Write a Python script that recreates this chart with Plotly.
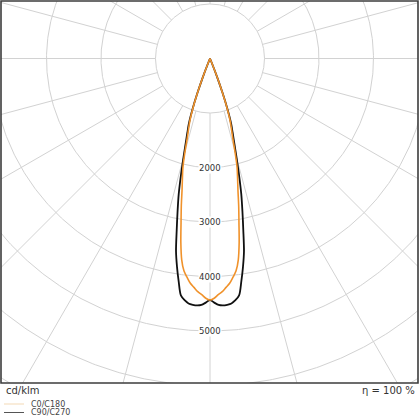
import numpy as np
import plotly.graph_objects as go

# ---- data (cd/klm) ----
gamma_deg = [0, 1, 2, 3, 4, 5, 6, 7, 8, 9, 10, 11, 12, 13, 14, 15, 16, 17, 18, 19, 20, 21, 22, 23, 30, 45, 60, 75, 90]
c0_c180 = [4431, 4400, 4335, 4285, 4210, 4140, 4035, 3925, 3730, 3420, 3060, 2760, 2467, 2250, 2051, 1775, 1510, 1340, 1186, 960, 660, 360, 80, 0, 0, 0, 0, 0, 0]
c90_c270 = [4431, 4480, 4525, 4537, 4530, 4512, 4460, 4381, 4130, 3870, 3590, 3200, 2860, 2550, 2200, 1880, 1620, 1420, 1250, 990, 680, 370, 70, 0, 0, 0, 0, 0, 0]

grid_radii = [1000, 2000, 3000, 4000, 5000, 6000, 7000, 8000]
label_radii = [2000, 3000, 4000, 5000]
spoke_angles = list(range(0, 360, 15))
series_names = ["C0/C180", "C90/C270"]
series_colors = ["#f0922b", "#111111"]
legend_colors = ["#f3d9b5", "#555555"]

W = H = 420
# frame in pixels
FX0, FX1, FY0, FY1 = 1, 418, 1, 383
CX, CY = 210, 58.5
S = 0.0545  # px per cd/klm

xr = [(FX0 - CX) / S, (FX1 - CX) / S]
yr = [-(FY1 - CY) / S, (CY - FY0) / S]

fig = go.Figure()

# grid circles
t = np.linspace(0, 2 * np.pi, 721)
gx, gy = [], []
for r in grid_radii:
    gx += list(r * np.sin(t)) + [None]
    gy += list(r * np.cos(t)) + [None]
fig.add_trace(go.Scatter(x=gx, y=gy, mode="lines", line=dict(color="#d2d2d2", width=1),
                         hoverinfo="skip", showlegend=False))
# spokes
sx, sy = [], []
for a in spoke_angles:
    ar = np.radians(a)
    sx += [grid_radii[0] * np.sin(ar), grid_radii[-1] * np.sin(ar), None]
    sy += [grid_radii[0] * np.cos(ar), grid_radii[-1] * np.cos(ar), None]
fig.add_trace(go.Scatter(x=sx, y=sy, mode="lines", line=dict(color="#d2d2d2", width=1),
                         hoverinfo="skip", showlegend=False))

g = np.radians(np.array(gamma_deg, dtype=float))
curve_traces = []
for name, vals, col, w in zip(series_names, [c0_c180, c90_c270], series_colors, [1.6, 1.8]):
    v = np.array(vals, dtype=float)
    ang = np.concatenate([-g[::-1], g[1:]])
    rr = np.concatenate([v[::-1], v[1:]])
    curve_traces.append(go.Scatter(x=rr * np.sin(ang), y=-rr * np.cos(ang), mode="lines",
                                   line=dict(color=col, width=w, shape="spline", smoothing=0.8),
                                   name=name, showlegend=False))
# black below orange
fig.add_trace(curve_traces[1])
fig.add_trace(curve_traces[0])

ann = []
for r in label_radii:
    ann.append(dict(x=0, y=-r, xref="x", yref="y", text=str(r), showarrow=False,
                    font=dict(family="DejaVu Sans", size=8.5, color="#333333"),
                    bgcolor="white", borderpad=0, xanchor="center", yanchor="middle"))

def px(x):
    return x / W

def py(y):
    return (H - y) / H

ann.append(dict(x=px(4), y=py(390), xref="paper", yref="paper", text="cd/klm", showarrow=False,
                font=dict(family="DejaVu Sans", size=10, color="#333333"), xanchor="left", yanchor="middle"))
ann.append(dict(x=px(417), y=py(390), xref="paper", yref="paper", text="η = 100 %", showarrow=False,
                font=dict(family="DejaVu Sans", size=10, color="#333333"), xanchor="right", yanchor="middle"))

shapes = [dict(type="rect", xref="paper", yref="paper", x0=px(FX0), x1=px(FX1), y0=py(FY1), y1=py(FY0),
               line=dict(color="#3c3c3c", width=1.6), layer="above")]
for i, (name, lc) in enumerate(zip(series_names, legend_colors)):
    yy = 404 + i * 8.5
    shapes.append(dict(type="line", xref="paper", yref="paper", x0=px(4), x1=px(24), y0=py(yy), y1=py(yy),
                       line=dict(color=lc, width=1)))
    ann.append(dict(x=px(29), y=py(yy), xref="paper", yref="paper", text=name, showarrow=False,
                    font=dict(family="DejaVu Sans", size=8, color="#444444"), xanchor="left", yanchor="middle"))

fig.update_layout(
    width=W, height=H, margin=dict(l=0, r=0, t=0, b=0),
    paper_bgcolor="white", plot_bgcolor="white",
    xaxis=dict(range=xr, domain=[px(FX0), px(FX1)], visible=False, fixedrange=True),
    yaxis=dict(range=yr, domain=[py(FY1), py(FY0)], visible=False, fixedrange=True),
    annotations=ann, shapes=shapes, showlegend=False,
)

fig.write_html("out.html", config={"displayModeBar": False},
               post_script="document.body.style.margin='0';document.body.style.padding='0';")
